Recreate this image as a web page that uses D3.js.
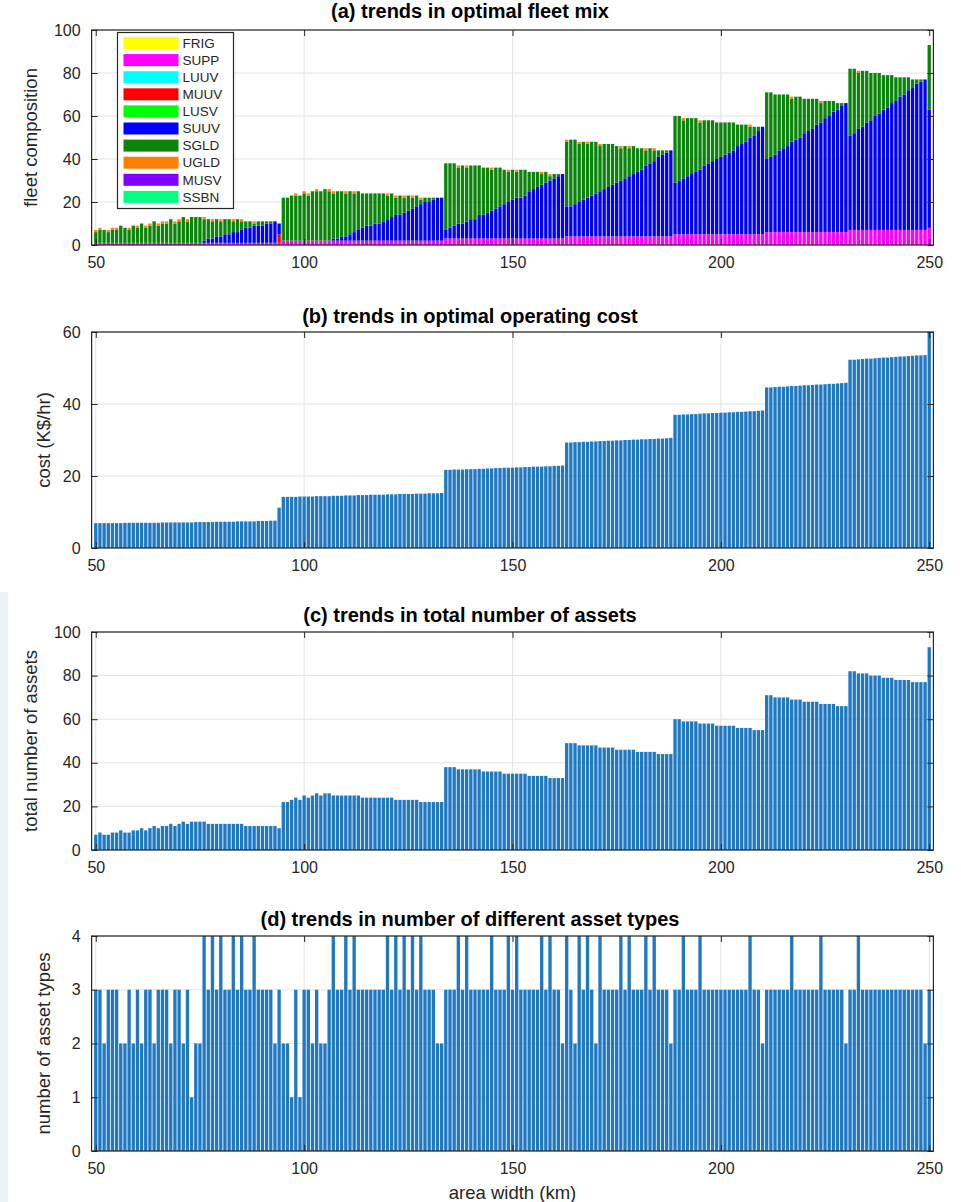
<!DOCTYPE html>
<html>
<head>
<meta charset="utf-8">
<script src="https://cdn.jsdelivr.net/npm/d3@7"></script>
<style>
  body { margin: 0; background: #fff; }
  svg { display: block; }
  text { font-family: "Liberation Sans", Arial, Helvetica, sans-serif; }
</style>
</head>
<body>
<svg id="chart" width="961" height="1202"></svg>
<script>
// ---------------------------------------------------------------------------
// Data: one entry per area width, 50 km ... 250 km (rows of ten)
// ---------------------------------------------------------------------------
const areaWidth = d3.range(50, 251);

// total number of assets in the optimal fleet
const totalAssets = [
  7, 8, 7, 7, 8, 8, 9, 8, 8, 9,            // 50-59
  9,10, 9,10,11,10,11,11,12,11,            // 60-69
  12,13,12,13,13,13,13,12,12,12,           // 70-79
  12,12,12,12,12,12,11,11,11,11,           // 80-89
  11,11,11,11,10,22,22,23,24,23,           // 90-99
  25,24,25,26,25,26,26,25,25,25,           // 100-109
  25,25,25,25,24,24,24,24,24,24,           // 110-119
  24,24,23,23,23,23,23,23,22,22,           // 120-129
  22,22,22,22,38,38,38,37,37,37,           // 130-139
  37,37,37,36,36,36,36,36,35,35,           // 140-149
  35,35,35,35,34,34,34,34,34,33,           // 150-159
  33,33,33,49,49,49,48,48,48,48,           // 160-169
  48,47,47,47,47,46,46,46,46,46,           // 170-179
  45,45,45,45,45,44,44,44,44,60,           // 180-189
  60,59,59,59,59,58,58,58,58,57,           // 190-199
  57,57,57,57,56,56,56,56,55,55,           // 200-209
  55,71,71,70,70,70,70,69,69,69,           // 210-219
  68,68,68,68,67,67,67,67,66,66,           // 220-229
  66,82,82,81,81,81,80,80,80,79,           // 230-239
  79,79,78,78,78,78,77,77,77,77,           // 240-249
  93                                       // 250
];

// optimal operating cost (K$/hr)
const operatingCost = [
  6.9,6.9,6.9,6.9,6.9,6.9,6.9,7.0,7.0,7.0,
  7.0,7.0,7.0,7.0,7.0,7.0,7.1,7.1,7.1,7.1,
  7.1,7.1,7.1,7.1,7.2,7.2,7.2,7.2,7.2,7.3,
  7.3,7.3,7.3,7.3,7.4,7.4,7.4,7.4,7.4,7.5,
  7.5,7.5,7.6,7.6,11.2,14.2,14.2,14.2,14.2,14.3,
  14.3,14.3,14.3,14.4,14.4,14.4,14.4,14.5,14.5,14.5,
  14.6,14.6,14.6,14.7,14.7,14.7,14.8,14.8,14.8,14.8,
  14.9,14.9,14.9,15.0,15.0,15.0,15.0,15.1,15.1,15.1,
  15.2,15.2,15.2,15.3,21.7,21.7,21.8,21.8,21.8,21.9,
  21.9,21.9,22.0,22.0,22.1,22.1,22.2,22.2,22.3,22.3,
  22.3,22.4,22.4,22.5,22.5,22.6,22.6,22.6,22.7,22.7,
  22.8,22.8,22.9,29.3,29.3,29.4,29.4,29.5,29.5,29.6,
  29.6,29.7,29.7,29.8,29.8,29.9,29.9,30.0,30.0,30.1,
  30.1,30.2,30.2,30.3,30.3,30.4,30.4,30.5,30.6,37.0,
  37.0,37.1,37.1,37.2,37.2,37.3,37.4,37.4,37.5,37.5,
  37.6,37.6,37.7,37.7,37.8,37.8,37.9,38.0,38.0,38.1,
  38.2,44.6,44.6,44.7,44.8,44.8,44.9,45.0,45.0,45.1,
  45.2,45.2,45.3,45.4,45.4,45.5,45.6,45.6,45.7,45.8,
  45.9,52.3,52.3,52.4,52.5,52.6,52.6,52.7,52.8,52.9,
  52.9,53.0,53.1,53.2,53.2,53.3,53.4,53.5,53.5,53.6,
  60.6
];

// number of different asset types in the fleet
const assetTypes = [
  3,3,2,3,3,3,2,2,3,2,
  3,2,3,3,2,3,3,3,2,3,
  3,2,3,1,2,2,4,3,4,3,
  4,3,3,4,3,4,3,3,4,3,
  3,3,3,2,3,2,2,1,3,1,
  3,3,2,3,2,2,3,4,3,3,
  4,3,4,3,3,3,3,3,3,3,
  4,3,4,3,4,3,4,3,4,3,
  3,3,2,2,3,3,3,4,3,4,
  3,3,3,3,3,4,3,3,3,4,
  3,4,3,3,3,3,3,4,3,4,
  3,3,2,4,3,2,4,3,4,3,
  2,4,3,3,3,3,4,3,4,3,
  3,3,4,3,4,3,3,3,2,3,
  3,4,3,3,3,4,3,3,3,3,
  3,3,3,3,3,3,3,4,3,3,
  2,3,3,3,3,3,3,4,3,3,
  3,3,3,3,4,3,3,3,3,3,
  2,3,3,4,3,3,3,3,3,3,
  3,3,3,3,3,3,3,3,3,2,
  3
];

// fleet mix: support ships (SUPP)
const suppCount = [
  1,1,1,1,1,1,1,1,1,1,
  1,1,1,1,1,1,1,1,1,1,
  1,1,1,1,1,1,1,1,1,1,
  1,1,1,1,1,1,1,1,1,1,
  1,1,1,1,1,2,2,2,2,2,
  2,2,2,2,2,2,2,2,2,2,
  2,2,2,2,2,2,2,2,2,2,
  2,2,2,2,2,2,2,2,2,2,
  2,2,2,2,3,3,3,3,3,3,
  3,3,3,3,3,3,3,3,3,3,
  3,3,3,3,3,3,3,3,3,3,
  3,3,3,4,4,4,4,4,4,4,
  4,4,4,4,4,4,4,4,4,4,
  4,4,4,4,4,4,4,4,4,5,
  5,5,5,5,5,5,5,5,5,5,
  5,5,5,5,5,5,5,5,5,5,
  5,6,6,6,6,6,6,6,6,6,
  6,6,6,6,6,6,6,6,6,6,
  6,7,7,7,7,7,7,7,7,7,
  7,7,7,7,7,7,7,7,7,7,
  8
];

// fleet mix: small UUVs (SUUV)
const suuvCount = [
  0,0,0,0,0,0,0,0,0,0,
  0,0,0,0,0,0,0,0,0,0,
  0,0,0,0,0,0,1,2,2,3,
  3,4,4,5,5,6,7,7,8,8,
  8,9,9,10,5,0,0,0,0,0,
  0,0,0,0,0,0,0,1,1,2,
  2,3,4,5,6,7,7,8,8,9,
  10,11,12,12,13,14,15,16,17,18,
  18,19,20,20,4,5,6,7,7,8,
  9,9,11,11,12,13,14,15,16,17,
  18,19,19,20,22,23,24,25,26,27,
  28,29,30,14,14,15,16,17,18,19,
  20,21,22,23,24,25,26,27,28,29,
  30,31,33,34,35,37,38,39,40,24,
  25,26,27,28,29,30,32,33,34,35,
  36,37,38,39,41,42,43,45,46,48,
  50,34,35,36,38,39,40,42,43,44,
  46,47,48,50,51,53,54,56,57,59,
  60,44,45,47,48,50,51,53,54,56,
  57,59,60,62,63,65,66,68,69,70,
  55
];

// fleet mix: medium UUVs (MUUV), as [area width, count]
const muuvCount = [[94, 4]];

// area widths whose fleet carries one unmanned glider (UGLD)
const ugldWidths = [
  50, 51, 53, 54, 55, 58, 60, 62, 63, 65, 66, 67, 69, 70, 72,
  76, 78, 80, 83, 85, 88, 98, 100, 101, 103, 106, 107, 110, 112,
  120, 122, 124, 126, 128, 137, 139, 145, 149, 151, 157, 159,
  163, 166, 168, 171, 176, 178, 182, 184, 191, 195, 207, 217, 224, 233
];

// legend / stacking order of the asset classes, with their colours
const assetClasses = ["FRIG", "SUPP", "LUUV", "MUUV", "LUSV", "SUUV", "SGLD", "UGLD", "MUSV", "SSBN"];
const assetColors  = ["#ffff00", "#ff00ff", "#00ffff", "#ff0000", "#00ff00",
                      "#0000ff", "#0b840b", "#ff8000", "#8000ff", "#00ff80"];

// axis ticks
const xTicks = [50, 100, 150, 200, 250];
const yTicksMix = [0, 20, 40, 60, 80, 100];
const yTicksCost = [0, 20, 40, 60];
const yTicksTotal = [0, 20, 40, 60, 80, 100];
const yTicksTypes = [0, 1, 2, 3, 4];

// ---------------------------------------------------------------------------
// Fleet-mix table: gliders (SGLD) make up the rest of each fleet
// ---------------------------------------------------------------------------
const muuvMap = new Map(muuvCount);
const ugldSet = new Set(ugldWidths);
const mixRows = areaWidth.map((w, i) => {
  const muuv = muuvMap.get(w) || 0;
  const ugld = ugldSet.has(w) ? 1 : 0;
  return {
    width: w,
    FRIG: 0, SUPP: suppCount[i], LUUV: 0, MUUV: muuv, LUSV: 0,
    SUUV: suuvCount[i],
    SGLD: Math.max(0, totalAssets[i] - suppCount[i] - muuv - suuvCount[i] - ugld),
    UGLD: ugld, MUSV: 0, SSBN: 0
  };
});

// ---------------------------------------------------------------------------
// Layout
// ---------------------------------------------------------------------------
const svg = d3.select("#chart");
const inkColor = "#262626";
const gridColor = "#e3e3e3";
const barBlue = "#1f78c1";

// page edge band on the lower left
svg.append("rect").attr("x", 0).attr("y", 592).attr("width", 8).attr("height", 610)
  .attr("fill", "#edf0f5");

const x = d3.scaleLinear().domain([49, 251]).range([91.6, 933.4]);
const barW = 0.8 * (x(51) - x(50));

const panels = [
  { top: 30,  bottom: 245,  max: 100, ticks: yTicksMix,   title: "(a) trends in optimal fleet mix",
    titleY: 18, ylabel: "fleet composition", ylabelX: 37 },
  { top: 332, bottom: 548,  max: 60,  ticks: yTicksCost,  title: "(b) trends in optimal operating cost",
    titleY: 323, ylabel: "cost (K$/hr)", ylabelX: 50 },
  { top: 632, bottom: 850,  max: 100, ticks: yTicksTotal, title: "(c) trends in total number of assets",
    titleY: 622, ylabel: "total number of assets", ylabelX: 37 },
  { top: 936, bottom: 1151, max: 4,   ticks: yTicksTypes, title: "(d) trends in number of different asset types",
    titleY: 926, ylabel: "number of asset types", ylabelX: 50 }
];
const titleCenterX = 470;

function drawFrame(p, idx) {
  const g = svg.append("g");
  const y = d3.scaleLinear().domain([0, p.max]).range([p.bottom, p.top]);
  p.y = y;
  const [x0, x1] = x.range();

  // grid
  g.append("g").selectAll("line.vg").data(xTicks).join("line")
    .attr("x1", d => x(d)).attr("x2", d => x(d))
    .attr("y1", p.top).attr("y2", p.bottom)
    .attr("stroke", gridColor).attr("stroke-width", 1);
  g.append("g").selectAll("line.hg").data(p.ticks).join("line")
    .attr("x1", x0).attr("x2", x1)
    .attr("y1", d => y(d)).attr("y2", d => y(d))
    .attr("stroke", gridColor).attr("stroke-width", 1);

  // clip for the plotted marks
  svg.append("clipPath").attr("id", "clip" + idx)
    .append("rect").attr("x", x0).attr("y", p.top).attr("width", x1 - x0).attr("height", p.bottom - p.top);
  p.marks = svg.append("g").attr("clip-path", `url(#clip${idx})`);
  p.axes = svg.append("g");
  return p;
}

function drawAxes(p) {
  const g = p.axes;
  const y = p.y;
  const [x0, x1] = x.range();
  const tick = 6;

  const bottom = g.append("g").attr("transform", `translate(0,${p.bottom})`)
    .call(d3.axisBottom(x).tickValues(xTicks).tickSizeInner(-tick).tickSizeOuter(0).tickPadding(12));
  const top = g.append("g").attr("transform", `translate(0,${p.top})`)
    .call(d3.axisTop(x).tickValues(xTicks).tickSizeInner(-tick).tickSizeOuter(0).tickFormat(""));
  const left = g.append("g").attr("transform", `translate(${x0},0)`)
    .call(d3.axisLeft(y).tickValues(p.ticks).tickFormat(d3.format("d"))
      .tickSizeInner(-tick).tickSizeOuter(0).tickPadding(11));
  const right = g.append("g").attr("transform", `translate(${x1},0)`)
    .call(d3.axisRight(y).tickValues(p.ticks).tickSizeInner(-tick).tickSizeOuter(0).tickFormat(""));

  [bottom, top, left, right].forEach(a => {
    a.select(".domain").remove();
    a.selectAll(".tick line").attr("stroke", inkColor).attr("stroke-width", 1);
    a.selectAll(".tick text").attr("fill", inkColor).attr("font-size", 16)
      .attr("font-family", '"Liberation Sans", Arial, sans-serif');
  });

  g.append("rect").attr("x", x0).attr("y", p.top)
    .attr("width", x1 - x0).attr("height", p.bottom - p.top)
    .attr("fill", "none").attr("stroke", inkColor).attr("stroke-width", 1.2);

  g.append("text").attr("x", titleCenterX).attr("y", p.titleY)
    .attr("text-anchor", "middle").attr("font-size", 20).attr("font-weight", "bold")
    .attr("fill", "#000").text(p.title);

  g.append("text")
    .attr("transform", `translate(${p.ylabelX},${(p.top + p.bottom) / 2}) rotate(-90)`)
    .attr("text-anchor", "middle").attr("font-size", 18.5).attr("fill", inkColor)
    .text(p.ylabel);
}

panels.forEach(drawFrame);

// (a) stacked fleet mix
{
  const p = panels[0];
  const stack = d3.stack().keys(assetClasses)(mixRows);
  const color = d3.scaleOrdinal().domain(assetClasses).range(assetColors);
  p.marks.selectAll("g.layer").data(stack).join("g")
    .attr("fill", d => color(d.key))
    .selectAll("rect").data(d => d.filter(s => s[1] > s[0])).join("rect")
    .attr("x", d => x(d.data.width) - barW / 2)
    .attr("width", barW)
    .attr("y", d => p.y(d[1]))
    .attr("height", d => p.y(d[0]) - p.y(d[1]));
}

// (b), (c), (d) simple bars
function drawBars(p, values) {
  p.marks.selectAll("rect").data(values).join("rect")
    .attr("x", (d, i) => x(areaWidth[i]) - barW / 2)
    .attr("width", barW)
    .attr("y", d => p.y(d))
    .attr("height", d => p.y(0) - p.y(d))
    .attr("fill", barBlue);
}
drawBars(panels[1], operatingCost);
drawBars(panels[2], totalAssets);
drawBars(panels[3], assetTypes);

panels.forEach(drawAxes);

// legend of panel (a)
{
  const lg = svg.append("g").attr("transform", "translate(117.5,32.5)");
  lg.append("rect").attr("width", 116).attr("height", 176)
    .attr("fill", "#fff").attr("stroke", inkColor).attr("stroke-width", 1.2);
  const rowH = 17.1;
  const item = lg.selectAll("g.item").data(assetClasses).join("g")
    .attr("transform", (d, i) => `translate(0,${10.5 + i * rowH})`);
  item.append("rect").attr("x", 6).attr("y", -6).attr("width", 55).attr("height", 12)
    .attr("fill", (d, i) => assetColors[i]);
  item.append("text").attr("x", 65).attr("y", 0).attr("dy", "0.35em")
    .attr("font-size", 13.5).attr("fill", inkColor).text(d => d);
}

// shared x-axis label
svg.append("text").attr("x", (x.range()[0] + x.range()[1]) / 2).attr("y", 1199)
  .attr("text-anchor", "middle").attr("font-size", 18.5).attr("fill", inkColor)
  .text("area width (km)");
</script>
</body>
</html>
